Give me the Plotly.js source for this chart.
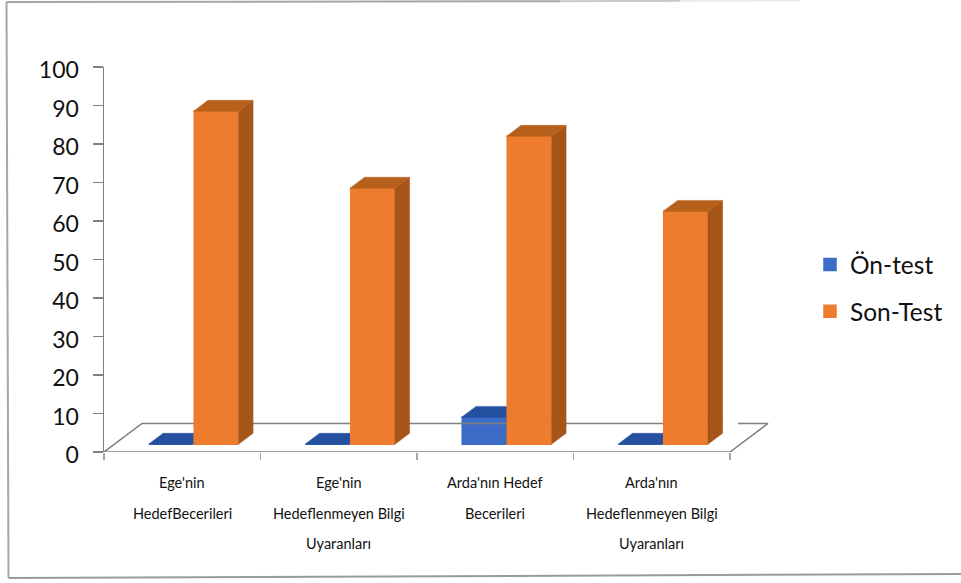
<!DOCTYPE html>
<html>
<head>
<meta charset="utf-8">
<script src="https://cdn.plot.ly/plotly-3.0.1.min.js"></script>
<style>html,body{margin:0;padding:0;background:#fff}#chart{width:961px;height:583px}</style>
</head>
<body>
<div id="chart"></div>
<script>
// Pre-test and post-test scores per skill group
const categoryLines = [
  ["Ege'nin", "HedefBecerileri"],
  ["Ege'nin", "Hedeflenmeyen Bilgi", "Uyaranları"],
  ["Arda'nın Hedef", "Becerileri"],
  ["Arda'nın", "Hedeflenmeyen Bilgi", "Uyaranları"]
];
const onTest = [0, 0, 7, 0];
const sonTest = [86.5, 66.5, 80, 60.5];
const yTicks = [0, 10, 20, 30, 40, 50, 60, 70, 80, 90, 100];
const seriesNames = ["Ön-test", "Son-Test"];

// Page geometry of the plot rectangle
const W = 961, H = 583;
const left = 104, right = 770, top_ = 67, bottom = 452;
const catPx = 156.5;
const xMax = (right - left) / catPx;

// Oblique projection of the floor: depth 0 is the front edge, depth 1 the back edge
const floorDx = 38 / catPx;
const floorDy = 7.4;
const frontDepth = 0.27, backDepth = 0.655;
const barLine = 1.5;
const barFull = 0.2875;
const barW = barFull - barLine / catPx;
const nudge = 0.006;
const project = (x, y, d) => [x + d * floorDx, y + d * floorDy];

const baseY = frontDepth * floorDy;
const frontX = i => i + 0.5 + nudge + frontDepth * floorDx;
const rawX = i => i + 0.5 + nudge;

const colors = {
  blue:   {front: '#3c6cc6', top: '#24509f', side: '#1f4585'},
  orange: {front: '#ee7c2e', top: '#b6601c', side: '#a65518'}
};

function polygon(pts, color, axes) {
  const closed = pts.concat([pts[0]]);
  return {
    type: 'scatter', mode: 'lines', fill: 'toself', fillcolor: color,
    x: closed.map(p => p[0]), y: closed.map(p => p[1]),
    line: {width: 0.5, color: color}, hoverinfo: 'skip', showlegend: false,
    xaxis: axes[0], yaxis: axes[1]
  };
}

// Side and top faces of one bar; x0 is its front-left corner before the depth shift
function faces(value, x0, palette, axes) {
  const x1 = x0 + barFull;
  const f = (x, v, d) => project(x, v, d);
  const topFace = [f(x0, value, frontDepth), f(x1, value, frontDepth), f(x1, value, backDepth), f(x0, value, backDepth)];
  const sideFace = [f(x1, 0, frontDepth), f(x1, value, frontDepth), f(x1, value, backDepth), f(x1, 0, backDepth)];
  return [polygon(sideFace, palette.side, axes), polygon(topFace, palette.top, axes)];
}

const traces = [];

// Floor outline, the back edge has a short break near its right end
const floorColor = '#7f7f7f';
const backBreak = [(723 - left) / catPx - floorDx, (738 - left) / catPx - floorDx];
const corners = [
  project(0, 0, 0), project(0, 0, 1), project(backBreak[0], 0, 1), [null, null],
  project(backBreak[1], 0, 1), project(4, 0, 1), project(4, 0, 0), project(0, 0, 0)
];
traces.push({
  type: 'scatter', mode: 'lines', x: corners.map(p => p[0]), y: corners.map(p => p[1]),
  line: {color: floorColor, width: 1.5}, hoverinfo: 'skip', showlegend: false, xaxis: 'x', yaxis: 'y'
});

// Blue series in the lower layer, orange series above it so its bars hide the blue depth
traces.push({
  type: 'bar', name: seriesNames[0], legendgroup: 'a',
  x: onTest.map((_, i) => frontX(i) - barFull / 2), y: onTest,
  base: onTest.map(() => baseY), width: barW,
  marker: {color: colors.blue.front, line: {width: barLine, color: colors.blue.front}},
  xaxis: 'x', yaxis: 'y', hoverinfo: 'y'
});
onTest.forEach((v, i) => traces.push(...faces(v, rawX(i) - barFull, colors.blue, ['x', 'y'])));

traces.push({
  type: 'bar', name: seriesNames[1], legendgroup: 'b',
  x: sonTest.map((_, i) => frontX(i) + barFull / 2), y: sonTest,
  base: sonTest.map(() => baseY), width: barW,
  marker: {color: colors.orange.front, line: {width: barLine, color: colors.orange.front}},
  xaxis: 'x2', yaxis: 'y2', hoverinfo: 'y'
});
sonTest.forEach((v, i) => traces.push(...faces(v, rawX(i), colors.orange, ['x2', 'y2'])));

// Pixel helpers for page-level decoration and label placement
const px = x => (x - left) / (right - left);
const py = y => (bottom - y) / (bottom - top_);

const lineYs = [483, 513, 543];
const annotations = [];
categoryLines.forEach((lines, i) => lines.forEach((txt, k) => annotations.push({
  text: txt, x: i + 0.5, xref: 'x', y: py(lineYs[k]), yref: 'paper',
  showarrow: false, xanchor: 'center', yanchor: 'middle',
  font: {family: 'Lato, sans-serif', size: 14.5, color: '#111'}
})));

const frame = (x0, y0, x1, y1, color) => ({
  type: 'line', xref: 'paper', yref: 'paper',
  x0: px(x0), y0: py(y0), x1: px(x1), y1: py(y1),
  line: {color: color, width: 2}
});

const layout = {
  width: W, height: H, autosize: false,
  margin: {l: left, r: W - right, t: top_, b: H - bottom, pad: 0},
  paper_bgcolor: '#fff', plot_bgcolor: 'rgba(0,0,0,0)',
  barmode: 'overlay',
  showlegend: true,
  font: {family: 'Lato, sans-serif', color: '#111'},
  xaxis: {
    range: [0, xMax], tickmode: 'array', tickvals: [0, 1, 2, 3, 4], ticktext: ['', '', '', '', ''],
    ticks: 'outside', ticklen: 7, tickcolor: '#a6a6a6', tickwidth: 1.5,
    showline: false, showgrid: false, zeroline: false, showticklabels: false, fixedrange: true
  },
  yaxis: {
    range: [0, 100], tickmode: 'array', tickvals: yTicks,
    ticks: 'outside', ticklen: 10, tickcolor: floorColor, tickwidth: 1.5,
    showline: true, linecolor: floorColor, linewidth: 1.5,
    showgrid: false, zeroline: false, fixedrange: true, ticklabelstandoff: 9, ticklabelshift: 3,
    tickfont: {family: 'Lato, sans-serif', size: 23, color: '#111'}
  },
  xaxis2: {range: [0, xMax], overlaying: 'x', visible: false, fixedrange: true},
  yaxis2: {range: [0, 100], overlaying: 'y', visible: false, fixedrange: true},
  legend: {
    x: px(810), y: py(242), xanchor: 'left', yanchor: 'top',
    traceorder: 'grouped', tracegroupgap: 12, itemwidth: 30,
    font: {family: 'Lato, sans-serif', size: 24.5, color: '#111'},
    bgcolor: 'rgba(0,0,0,0)', itemclick: false, itemdoubleclick: false
  },
  annotations: annotations,
  shapes: [
    frame(6.5, 2, 560, 1.2, '#a6a6a6'),
    frame(560, 1.2, 680, 0.8, '#c8c8c8'),
    frame(680, 0.8, 800, 0.5, '#e8e8e8'),
    frame(6.5, 2, 8.5, 578, '#a6a6a6'),
    frame(8.5, 578, 961, 574, '#9a9a9a')
  ]
};

Plotly.newPlot('chart', traces, layout, {displayModeBar: false, staticPlot: true});
</script>
</body>
</html>
